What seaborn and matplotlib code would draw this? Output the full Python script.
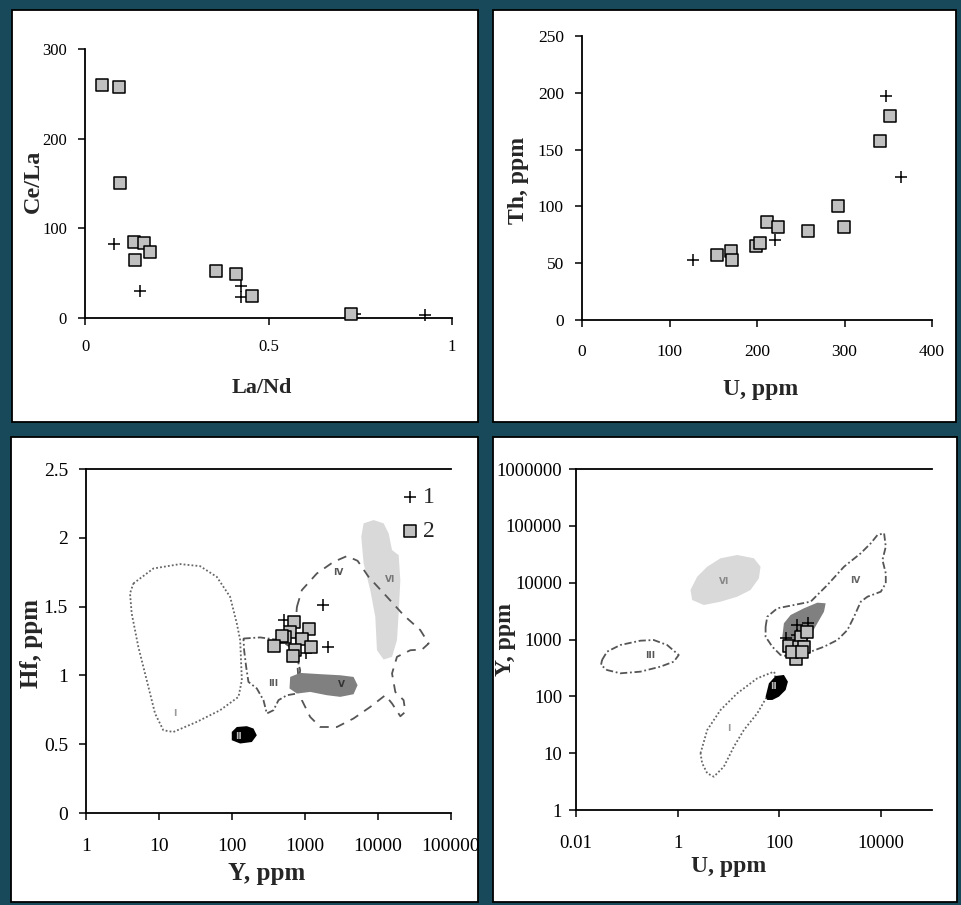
import numpy as np
import pandas as pd
import matplotlib
matplotlib.use('Agg')
import matplotlib.pyplot as plt
import seaborn as sns
from matplotlib.patches import Rectangle
from matplotlib.ticker import FixedLocator, FixedFormatter, NullLocator

sns.set_theme(style='ticks')
plt.rcParams['font.family'] = ['Liberation Serif', 'DejaVu Serif']
plt.rcParams['axes.edgecolor'] = 'black'
plt.rcParams['xtick.color'] = 'black'
plt.rcParams['ytick.color'] = 'black'

# ---------------- data ----------------
# Panel A: Ce/La vs La/Nd
a_cross_x = [0.078, 0.149, 0.425, 0.425, 0.735, 0.927]
a_cross_y = [83, 30, 36, 23, 5, 3]
a_sq_x = [0.045, 0.094, 0.095, 0.133, 0.161, 0.177, 0.135, 0.357, 0.411, 0.456, 0.726]
a_sq_y = [260, 258, 151, 85, 84, 74, 65, 52, 49, 25, 5]

# Panel B: Th vs U
b_cross_x = [127, 220, 347, 365]
b_cross_y = [53, 70, 197, 126]
b_sq_x = [154, 170, 171, 199, 203, 211, 224, 258, 292, 299, 340, 352]
b_sq_y = [57, 61, 53, 65, 68, 86, 82, 78, 100, 82, 158, 180]

# Panel C: Hf vs Y (log x)
c_cross_x = [508, 1758, 2037, 1040]
c_cross_y = [1.40, 1.51, 1.21, 1.16]
c_sq_x = [697, 1117, 627, 536, 906, 482, 382, 735, 1205, 682]
c_sq_y = [1.389, 1.336, 1.316, 1.280, 1.268, 1.285, 1.217, 1.188, 1.203, 1.140]

# Panel C fields (x as log10 Y, y as Hf)
c_I_lx = [0.649, 0.923, 1.289, 1.563, 1.792, 1.974, 2.066, 2.112, 2.135, 2.089, 1.837, 1.517, 1.197, 1.060, 0.946, 0.832, 0.717, 0.626, 0.603]
c_I_y = [1.668, 1.777, 1.809, 1.794, 1.716, 1.571, 1.377, 1.256, 0.965, 0.844, 0.747, 0.662, 0.589, 0.601, 0.723, 0.965, 1.207, 1.450, 1.596]
c_II_lx = [1.997, 2.066, 2.203, 2.294, 2.340, 2.272, 2.112, 1.997]
c_II_y = [0.589, 0.625, 0.631, 0.614, 0.565, 0.516, 0.505, 0.529]
c_III_lx = [2.157, 2.386, 2.660, 2.866, 2.934, 2.889, 2.752, 2.637, 2.568, 2.477, 2.431, 2.340, 2.225, 2.194, 2.166]
c_III_y = [1.268, 1.276, 1.256, 1.183, 1.038, 0.868, 0.856, 0.820, 0.747, 0.723, 0.820, 0.905, 0.953, 1.062, 1.183]
c_IV_lx = [2.889, 2.957, 3.163, 3.391, 3.574, 3.720, 3.871, 4.123, 4.351, 4.580, 4.694, 4.603, 4.443, 4.260, 4.192,
           4.237, 4.351, 4.374, 4.306, 4.192, 4.100, 3.894, 3.665, 3.437, 3.209, 3.071, 2.957, 2.911, 2.889, 2.866]
c_IV_y = [1.498, 1.620, 1.741, 1.825, 1.867, 1.833, 1.716, 1.571, 1.438, 1.329, 1.232, 1.188, 1.183, 1.135, 1.014,
          0.880, 0.820, 0.735, 0.703, 0.796, 0.856, 0.771, 0.687, 0.625, 0.625, 0.698, 0.820, 0.965, 1.135, 1.329]
c_V_lx = [2.797, 2.934, 3.209, 3.483, 3.665, 3.720, 3.665, 3.483, 3.300, 3.071, 2.889, 2.788]
c_V_y = [0.989, 1.018, 1.009, 1.001, 0.989, 0.929, 0.863, 0.844, 0.856, 0.880, 0.868, 0.905]
c_VI_lx = [3.803, 3.940, 4.077, 4.146, 4.192, 4.283, 4.306, 4.283, 4.260, 4.192, 4.077, 3.986, 3.963, 3.894, 3.803, 3.771]
c_VI_y = [2.105, 2.129, 2.105, 2.032, 1.911, 1.874, 1.692, 1.450, 1.256, 1.135, 1.115, 1.183, 1.425, 1.620, 1.814, 2.007]
c_labels = ['I', 'II', 'III', 'IV', 'V', 'VI']
c_label_lx = [1.220, 2.089, 2.559, 3.460, 3.506, 4.160]
c_label_y = [0.723, 0.553, 0.941, 1.748, 0.936, 1.697]

# Panel D: Y vs U (log-log)
d_cross_x = [132, 225, 364, 219]
d_cross_y = [1050, 1799, 1977, 1199]
d_sq_x = [154, 270, 343, 208, 242, 303, 179, 282]
d_sq_y = [778, 1094, 1374, 449, 746, 746, 611, 611]

d_I_lx = [0.448, 0.580, 0.842, 1.170, 1.564, 1.891, 1.925, 1.793, 1.564, 1.301, 1.104, 0.907, 0.710, 0.580, 0.481]
d_I_ly = [0.997, 1.408, 1.760, 2.053, 2.317, 2.434, 2.376, 2.053, 1.701, 1.408, 1.114, 0.762, 0.586, 0.646, 0.822]
d_II_lx = [1.728, 1.793, 1.925, 2.088, 2.167, 2.122, 1.990, 1.860, 1.761]
d_II_ly = [1.994, 2.229, 2.358, 2.376, 2.258, 2.112, 1.994, 1.936, 1.936]
d_III_lx = [-1.488, -1.390, -1.128, -0.734, -0.472, -0.208, 0.020, -0.078, -0.340, -0.734, -1.128, -1.390, -1.508]
d_III_ly = [2.639, 2.786, 2.903, 2.979, 2.991, 2.903, 2.727, 2.610, 2.522, 2.434, 2.405, 2.463, 2.551]
d_IV_lx = [1.728, 1.761, 1.958, 2.285, 2.614, 2.943, 3.270, 3.599, 3.796, 3.928, 4.058, 4.091, 4.026, 4.091, 4.091,
           3.993, 3.731, 3.599, 3.467, 3.337, 3.140, 2.876, 2.614, 2.417, 2.220, 2.023, 1.860, 1.728]
d_IV_ly = [3.225, 3.401, 3.549, 3.607, 3.666, 3.959, 4.281, 4.517, 4.693, 4.839, 4.869, 4.633, 4.399, 4.165, 3.989,
           3.841, 3.753, 3.665, 3.401, 3.167, 2.991, 2.873, 2.786, 2.757, 2.697, 2.727, 2.873, 3.049]
d_V_lx = [2.088, 2.220, 2.482, 2.745, 2.909, 2.876, 2.745, 2.614, 2.482, 2.384, 2.253, 2.122, 2.057]
d_V_ly = [3.285, 3.431, 3.549, 3.648, 3.637, 3.489, 3.285, 3.079, 2.873, 2.697, 2.669, 2.786, 3.049]
d_VI_lx = [0.251, 0.383, 0.580, 0.842, 1.170, 1.498, 1.629, 1.596, 1.432, 1.170, 0.842, 0.513, 0.284]
d_VI_ly = [3.871, 4.105, 4.281, 4.429, 4.487, 4.429, 4.281, 4.077, 3.871, 3.753, 3.665, 3.607, 3.695]
d_labels = ['I', 'II', 'III', 'IV', 'VI']
d_label_lx = [1.006, 1.891, -0.537, 3.500, 0.907]
d_label_ly = [1.437, 2.170, 2.727, 4.035, 4.017]

# ---------------- figure ----------------
W, H = 961, 905
BG = '#17495a'
fig = plt.figure(figsize=(W / 100, H / 100), dpi=100, facecolor=BG)

def frame(x0, y0, x1, y1):
    fig.add_artist(Rectangle((x0 / W, 1 - y1 / H), (x1 - x0) / W, (y1 - y0) / H,
                             transform=fig.transFigure, facecolor='white',
                             edgecolor='black', lw=1.3, zorder=-5))

frame(12, 10, 478, 422)
frame(493, 10, 956, 422)
frame(11, 437, 478, 902)
frame(493, 437, 957, 902)

def make_ax(x0, y0, x1, y1):
    ax = fig.add_axes([x0 / W, 1 - y1 / H, (x1 - x0) / W, (y1 - y0) / H])
    ax.set_facecolor('none')
    return ax

CROSS = dict(marker='+', color='black', s=85, linewidth=1.1, clip_on=False, zorder=4)
SQ = dict(marker='s', color='#c0c0c0', edgecolor='black', s=64, linewidth=1.1, clip_on=False, zorder=5)

def style(ax, top=False, labelsize=11, xpad=8, ypad=6):
    ax.spines['right'].set_visible(False)
    ax.spines['top'].set_visible(top)
    for s in ['left', 'bottom', 'top']:
        ax.spines[s].set_linewidth(1.3)
        ax.spines[s].set_color('black')
    ax.tick_params(axis='both', direction='out', length=5, width=1.1, labelsize=labelsize)
    ax.tick_params(axis='x', pad=xpad)
    ax.tick_params(axis='y', pad=ypad)
    ax.minorticks_off()

# ---- Panel A ----
axA = make_ax(85, 49, 452, 318)
sns.scatterplot(x=a_cross_x, y=a_cross_y, ax=axA, **CROSS)
sns.scatterplot(x=a_sq_x, y=a_sq_y, ax=axA, **SQ)
axA.set_xlim(0, 1)
axA.set_ylim(0, 300)
axA.set_xticks([0, 0.5, 1])
axA.set_xticklabels(['0', '0.5', '1'])
axA.set_yticks([0, 100, 200, 300])
axA.set_yticklabels(['0', '100', '200', '300'])
style(axA, labelsize=12, xpad=10, ypad=8)
axA.set_xlabel('La/Nd', fontsize=16, fontweight='bold', va='center')
axA.xaxis.set_label_coords(0.481, -0.261)
axA.set_ylabel('Ce/La', fontsize=17.5, fontweight='bold', va='center')
axA.yaxis.set_label_coords(-0.141, 0.507)

# ---- Panel B ----
axB = make_ax(582, 36, 932, 320)
sns.scatterplot(x=b_cross_x, y=b_cross_y, ax=axB, **CROSS)
sns.scatterplot(x=b_sq_x, y=b_sq_y, ax=axB, **SQ)
axB.set_xlim(0, 400)
axB.set_ylim(0, 250)
axB.set_xticks([0, 100, 200, 300, 400])
axB.set_xticklabels(['0', '100', '200', '300', '400'])
axB.set_yticks([0, 50, 100, 150, 200, 250])
axB.set_yticklabels(['0', '50', '100', '150', '200', '250'])
style(axB, labelsize=12.5, xpad=12, ypad=8)
axB.set_xlabel('U, ppm', fontsize=17, fontweight='bold', va='center')
axB.xaxis.set_label_coords(0.509, -0.244)
axB.set_ylabel('Th, ppm', fontsize=17, fontweight='bold', va='center')
axB.yaxis.set_label_coords(-0.181, 0.492)

# ---- Panel C ----
axC = make_ax(86, 469, 451, 813)
axC.set_xscale('log')
LINE = '#555555'
axC.fill(np.power(10, c_VI_lx), c_VI_y, color='#d9d9d9', lw=0, zorder=1)
axC.plot(np.power(10, c_I_lx + c_I_lx[:1]), c_I_y + c_I_y[:1], ls=(0, (1, 1.2)), color='#666666', lw=1.3, zorder=2)
axC.plot(np.power(10, c_III_lx + c_III_lx[:1]), c_III_y + c_III_y[:1], ls=(0, (4, 1.5, 1, 1.5)), color=LINE, lw=1.3, zorder=2)
axC.plot(np.power(10, c_IV_lx + c_IV_lx[:1]), c_IV_y + c_IV_y[:1], ls=(0, (5, 4)), color=LINE, lw=1.3, zorder=2)
axC.fill(np.power(10, c_V_lx), c_V_y, color='#808080', lw=0, zorder=3)
axC.fill(np.power(10, c_II_lx), c_II_y, color='black', lw=0, zorder=3)
lab_col = ['#999999', '#bbbbbb', '#555555', '#555555', '#333333', '#777777']
for t, lx, yy, cc in zip(c_labels, c_label_lx, c_label_y, lab_col):
    axC.text(10 ** lx, yy, t, fontsize=6.5, fontweight='bold', color=cc, ha='center', va='center',
             family='DejaVu Sans', zorder=3.5)
sns.scatterplot(x=c_cross_x, y=c_cross_y, ax=axC, label='1', **CROSS)
sns.scatterplot(x=c_sq_x, y=c_sq_y, ax=axC, label='2', **SQ)
axC.set_xlim(1, 100000)
axC.set_ylim(0, 2.5)
cx = [1, 10, 100, 1000, 10000, 100000]
axC.xaxis.set_major_locator(FixedLocator(cx))
axC.xaxis.set_major_formatter(FixedFormatter([str(v) for v in cx]))
axC.xaxis.set_minor_locator(NullLocator())
axC.set_yticks([0, 0.5, 1, 1.5, 2, 2.5])
axC.set_yticklabels(['0', '0.5', '1', '1.5', '2', '2.5'])
style(axC, top=True, labelsize=14, xpad=13, ypad=8)
axC.set_xlabel('Y, ppm', fontsize=18, fontweight='bold', va='center')
axC.xaxis.set_label_coords(0.495, -0.176)
axC.set_ylabel('Hf, ppm', fontsize=18, fontweight='bold', va='center')
axC.yaxis.set_label_coords(-0.149, 0.493)
leg = axC.legend(loc='upper left', bbox_to_anchor=(0.843, 0.977), frameon=False, fontsize=17,
                 handletextpad=0.25, labelspacing=0.55, handlelength=0.6, borderaxespad=0)

# ---- Panel D ----
axD = make_ax(576, 469, 932, 810)
axD.set_xscale('log')
axD.set_yscale('log')
axD.fill(np.power(10, d_VI_lx), np.power(10, d_VI_ly), color='#d9d9d9', lw=0, zorder=1)
axD.plot(np.power(10, d_I_lx + d_I_lx[:1]), np.power(10, d_I_ly + d_I_ly[:1]), ls=(0, (1, 1.2)), color='#666666', lw=1.3, zorder=2)
axD.plot(np.power(10, d_III_lx + d_III_lx[:1]), np.power(10, d_III_ly + d_III_ly[:1]), ls=(0, (4, 1.5, 1, 1.5)), color=LINE, lw=1.3, zorder=2)
axD.plot(np.power(10, d_IV_lx + d_IV_lx[:1]), np.power(10, d_IV_ly + d_IV_ly[:1]), ls=(0, (4, 1.5, 1, 1.5)), color=LINE, lw=1.3, zorder=2)
axD.fill(np.power(10, d_V_lx), np.power(10, d_V_ly), color='#808080', lw=0, zorder=3)
axD.fill(np.power(10, d_II_lx), np.power(10, d_II_ly), color='black', lw=0, zorder=3)
lab_col_d = ['#999999', '#bbbbbb', '#555555', '#666666', '#888888']
for t, lx, ly, cc in zip(d_labels, d_label_lx, d_label_ly, lab_col_d):
    axD.text(10 ** lx, 10 ** ly, t, fontsize=6.5, fontweight='bold', color=cc, ha='center', va='center',
             family='DejaVu Sans', zorder=3.5)
sns.scatterplot(x=d_cross_x, y=d_cross_y, ax=axD, **CROSS)
sns.scatterplot(x=d_sq_x, y=d_sq_y, ax=axD, **SQ)
axD.set_xlim(0.01, 100000)
axD.set_ylim(1, 1000000)
dx = [0.01, 1, 100, 10000]
axD.xaxis.set_major_locator(FixedLocator(dx))
axD.xaxis.set_major_formatter(FixedFormatter(['0.01', '1', '100', '10000']))
axD.xaxis.set_minor_locator(NullLocator())
dy = [1, 10, 100, 1000, 10000, 100000, 1000000]
axD.yaxis.set_major_locator(FixedLocator(dy))
axD.yaxis.set_major_formatter(FixedFormatter([str(v) for v in dy]))
axD.yaxis.set_minor_locator(NullLocator())
style(axD, top=True, labelsize=13.5, xpad=13, ypad=5)
axD.set_xlabel('U, ppm', fontsize=17, fontweight='bold', va='center')
axD.xaxis.set_label_coords(0.429, -0.166)
axD.set_ylabel('Y, ppm', fontsize=17, fontweight='bold', va='center')
axD.yaxis.set_label_coords(-0.199, 0.499)

fig.savefig('out.png', dpi=100, facecolor=BG)
